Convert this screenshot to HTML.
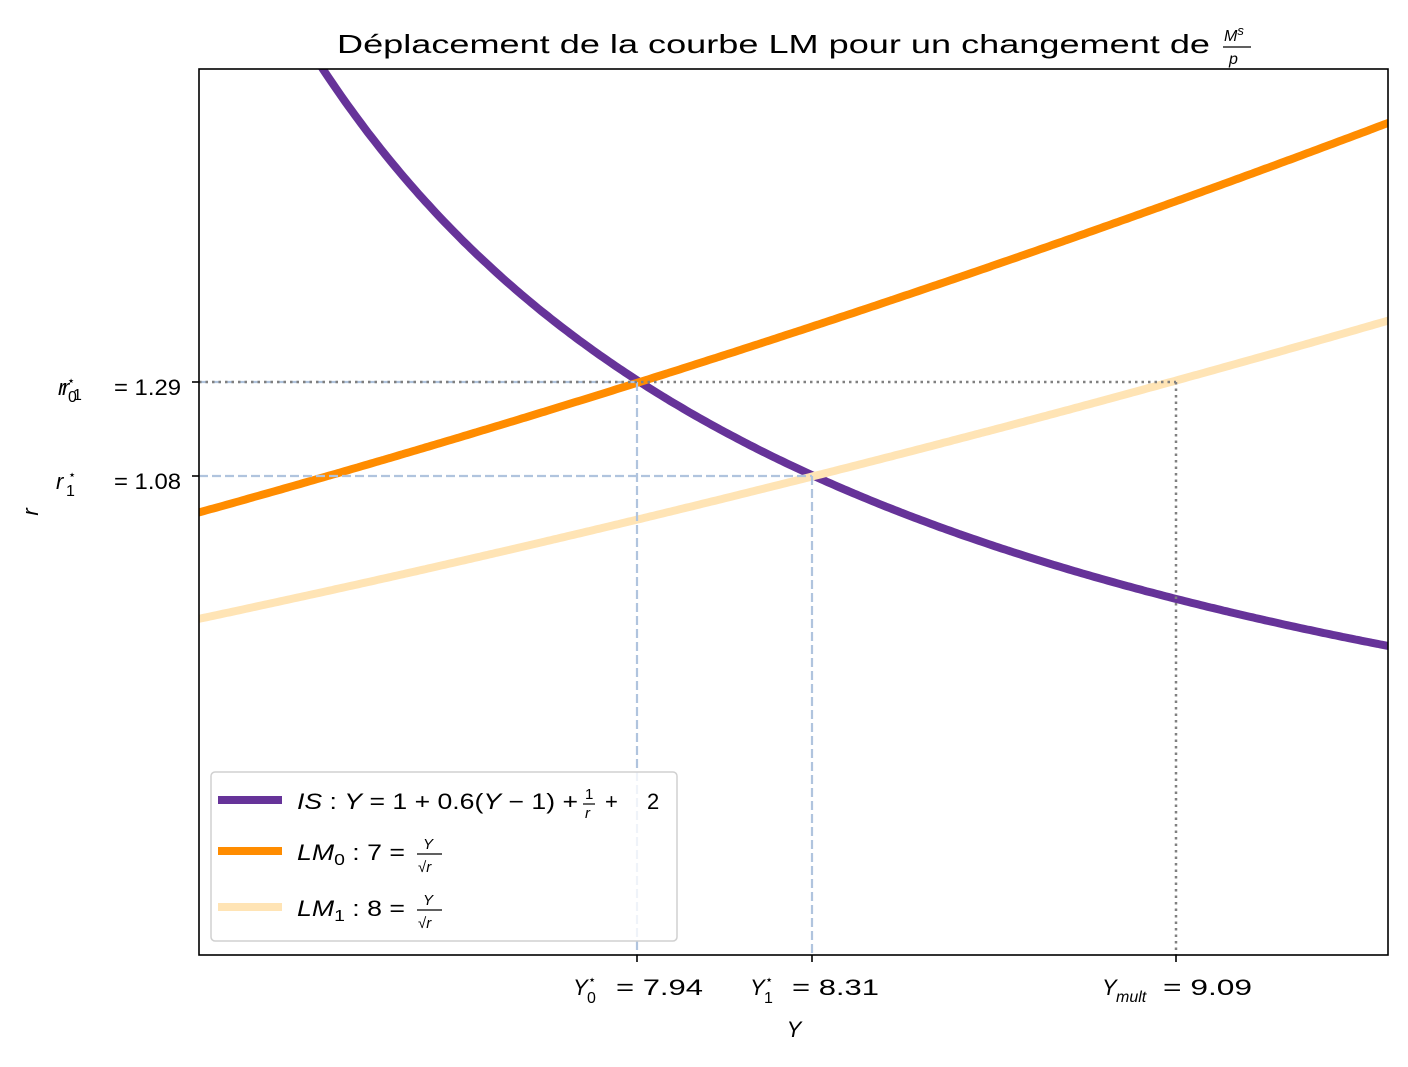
<!DOCTYPE html>
<html><head><meta charset="utf-8"><style>
body{margin:0;background:#fff;}
svg text{font-family:"Liberation Sans",sans-serif;fill:#000;}
.it{font-style:italic;}
.f24{font-size:26px;}
.f20{font-size:22px;}
.f14{font-size:16px;}
.f13{font-size:15px;}
.f12{font-size:13px;}
</style></head><body>
<svg id="s" width="1408" height="1062" viewBox="0 0 1408 1062" xmlns="http://www.w3.org/2000/svg">
<defs><clipPath id="c"><rect x="199" y="69" width="1189" height="886"/></clipPath></defs>
<rect width="1408" height="1062" fill="#fff"/>
<g clip-path="url(#c)">
<path id="is" fill="none" stroke="#663399" stroke-width="8"/>
<path id="lm0" fill="none" stroke="#ff8c00" stroke-width="8"/>
<path id="lm1" fill="none" stroke="#ffe4b5" stroke-width="8"/>
<line x1="637" y1="382" x2="637" y2="955" stroke="#b0c4de" stroke-width="2.2" stroke-dasharray="9,4"/>
<line x1="199" y1="382" x2="637" y2="382" stroke="#b0c4de" stroke-width="2.2" stroke-dasharray="9,4"/>
<line x1="812" y1="476" x2="812" y2="955" stroke="#b0c4de" stroke-width="2.2" stroke-dasharray="9,4"/>
<line x1="199" y1="476" x2="812" y2="476" stroke="#b0c4de" stroke-width="2.2" stroke-dasharray="9,4"/>
<line x1="199" y1="382" x2="1176" y2="382" stroke="#808080" stroke-width="2.5" stroke-dasharray="2.5,4"/>
<line x1="1176" y1="382" x2="1176" y2="955" stroke="#808080" stroke-width="2.5" stroke-dasharray="2.5,4"/>
</g>
<rect x="199" y="69" width="1189" height="886" fill="none" stroke="#000" stroke-width="1.6"/>
<g stroke="#000" stroke-width="1.6">
<line x1="192" y1="382" x2="199" y2="382"/><line x1="192" y1="476" x2="199" y2="476"/>
<line x1="637" y1="955" x2="637" y2="962"/><line x1="812" y1="955" x2="812" y2="962"/><line x1="1176" y1="955" x2="1176" y2="962"/>
</g>
<text x="337" y="53" class="f24" textLength="873" lengthAdjust="spacingAndGlyphs">Déplacement de la courbe LM pour un changement de</text>
<text x="1224" y="41" class="f14 it">M<tspan class="f12" dy="-6">s</tspan></text>
<line x1="1223" y1="47" x2="1251" y2="47" stroke="#000" stroke-width="1.3"/>
<text x="1229" y="64" class="f14 it">p</text>
<text x="58" y="395" class="f20 it">r</text><text x="68" y="402" class="f14">0</text><text x="67" y="385" class="f12">⋆</text>
<text x="62" y="395" class="f20 it">r</text><text x="73" y="400" class="f14">1</text>
<text x="114" y="395" class="f20" textLength="67" lengthAdjust="spacingAndGlyphs">= 1.29</text>
<text x="56" y="489" class="f20 it">r</text><text x="66" y="496" class="f14">1</text><text x="68" y="479" class="f12">⋆</text>
<text x="114" y="489" class="f20" textLength="67" lengthAdjust="spacingAndGlyphs">= 1.08</text>
<text x="38" y="512" class="f20 it" transform="rotate(-90 38 512)" text-anchor="middle">r</text>
<text x="573" y="995" class="f20 it">Y</text><text x="587" y="1003" class="f14">0</text><text x="588" y="984" class="f12">⋆</text><text x="616" y="995" class="f20" textLength="87" lengthAdjust="spacingAndGlyphs">= 7.94</text>
<text x="750" y="995" class="f20 it">Y</text><text x="764" y="1003" class="f14">1</text><text x="765" y="984" class="f12">⋆</text><text x="792" y="995" class="f20" textLength="87" lengthAdjust="spacingAndGlyphs">= 8.31</text>
<text x="1102" y="995" class="f20 it">Y</text><text x="1116" y="1002" class="f14 it">mult</text><text x="1163" y="995" class="f20" textLength="89" lengthAdjust="spacingAndGlyphs">= 9.09</text>
<text x="794" y="1037" class="f20 it" text-anchor="middle">Y</text>
<rect x="211" y="772" width="466" height="169" rx="4" fill="#fff" fill-opacity="0.8" stroke="#d0d0d0" stroke-width="1.5"/>
<line x1="218" y1="800" x2="282" y2="800" stroke="#663399" stroke-width="8"/>
<line x1="218" y1="851" x2="282" y2="851" stroke="#ff8c00" stroke-width="8"/>
<line x1="218" y1="907" x2="282" y2="907" stroke="#ffe4b5" stroke-width="8"/>
<text x="297" y="809" class="f20" textLength="281" lengthAdjust="spacingAndGlyphs"><tspan class="it">IS</tspan> : <tspan class="it">Y</tspan> = 1 + 0.6(<tspan class="it">Y</tspan> − 1) +</text>
<text x="585" y="799" class="f13">1</text><line x1="583" y1="804" x2="595" y2="804" stroke="#000" stroke-width="1.2"/><text x="585" y="818" class="f13 it">r</text>
<text x="605" y="809" class="f20">+</text>
<text x="647" y="809" class="f20">2</text>
<text x="297" y="860" class="f20" textLength="108" lengthAdjust="spacingAndGlyphs"><tspan class="it">LM</tspan><tspan class="f14" dy="5">0</tspan><tspan dy="-5"> : 7 =</tspan></text>
<text x="423" y="849" class="f13 it">Y</text><line x1="417" y1="854" x2="442" y2="854" stroke="#000" stroke-width="1.2"/><text x="418" y="872" class="f13">√<tspan class="it">r</tspan></text>
<text x="297" y="916" class="f20" textLength="108" lengthAdjust="spacingAndGlyphs"><tspan class="it">LM</tspan><tspan class="f14" dy="5">1</tspan><tspan dy="-5"> : 8 =</tspan></text>
<text x="423" y="905" class="f13 it">Y</text><line x1="417" y1="910" x2="442" y2="910" stroke="#000" stroke-width="1.2"/><text x="418" y="928" class="f13">√<tspan class="it">r</tspan></text>
</svg>
<script>
function px(Y){return 199+(Y-7.0)*467.9;}
function py(r){return 382-(r-1.2873)*454;}
function build(f){var d="";for(var i=0;i<=400;i++){var Y=6.9+i*(2.75/400);var r=f(Y);if(!(r>0)||r>5)continue;d+=(d?"L":"M")+px(Y).toFixed(1)+","+py(r).toFixed(1);}return d;}
document.getElementById("is").setAttribute("d",build(function(Y){var v=0.4*Y-2.4;return v>0?1/v:NaN;}));
document.getElementById("lm0").setAttribute("d",build(function(Y){return (Y/7)*(Y/7);}));
document.getElementById("lm1").setAttribute("d",build(function(Y){return (Y/8)*(Y/8);}));
</script>
</body></html>
